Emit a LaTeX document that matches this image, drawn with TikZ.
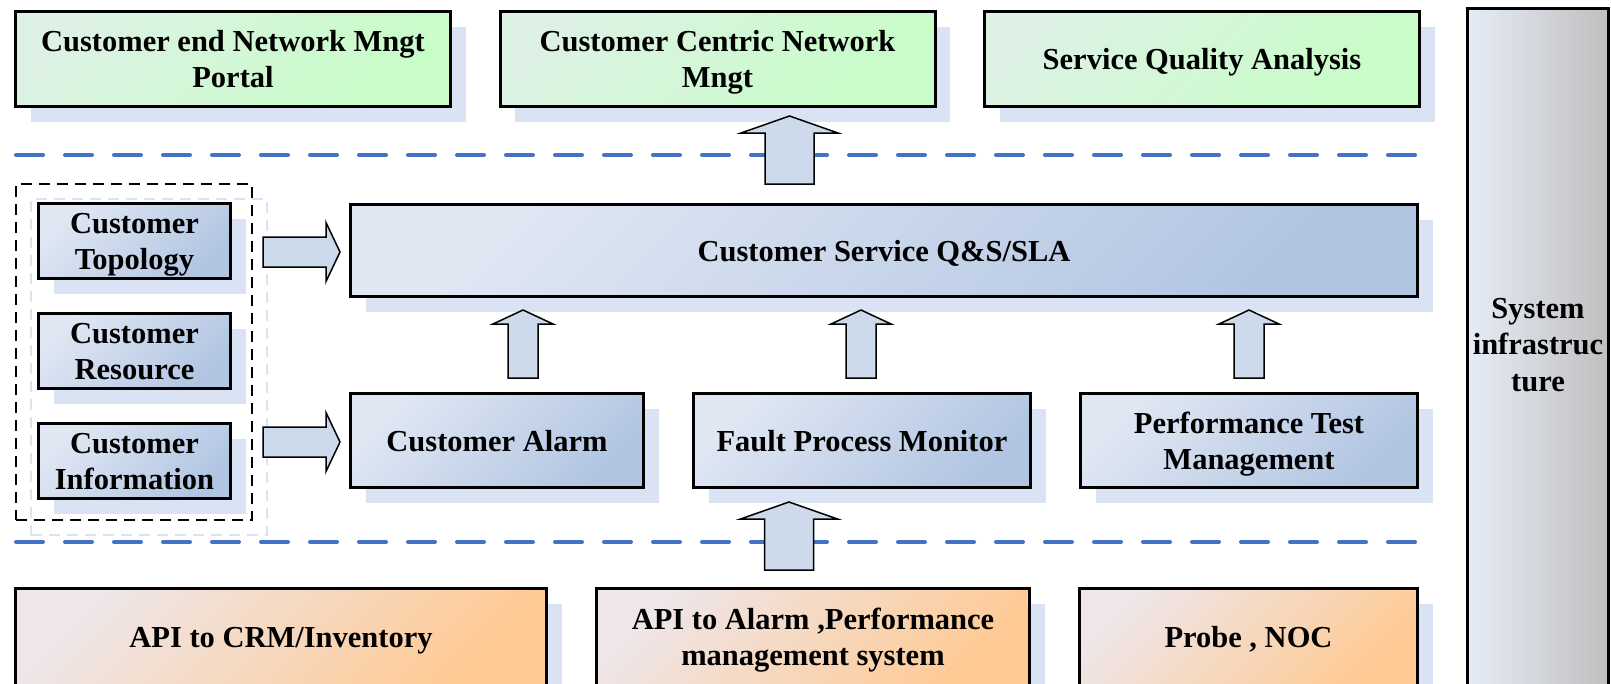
\documentclass[tikz,border=0pt]{standalone}
\usepackage{fontspec}
\setmainfont{Liberation Serif}
\usepackage{tikz}
\usetikzlibrary{positioning,shadows}

\definecolor{shadowblue}{HTML}{DAE3F3}
\definecolor{sepblue}{HTML}{4472C4}
\definecolor{arrowblue}{HTML}{CCDAEC}
\definecolor{greenA}{HTML}{DDF2E4}
\definecolor{greenB}{HTML}{C8FDC8}
\definecolor{blueA}{HTML}{E0E7F3}
\definecolor{blueB}{HTML}{B1C5E2}
\definecolor{orangeA}{HTML}{EEE6E8}
\definecolor{orangeB}{HTML}{FFCA94}
\definecolor{grayA}{HTML}{E6ECF7}
\definecolor{grayB}{HTML}{BFBFBF}

\begin{document}
\begin{tikzpicture}[x=1pt,y=-1pt,node distance=47pt,
  box/.style={draw,line width=3pt,align=center,inner sep=0pt,text depth=0pt,
    font=\bfseries\fontsize{30.5}{36}\selectfont,
    general shadow={fill=shadowblue,shadow xshift=15pt,shadow yshift=-15pt}},
  greenbox/.style={box,top color=greenA,bottom color=greenB,shading angle=45,
    minimum width=435pt,minimum height=95pt},
  bluebox/.style={box,top color=blueA,bottom color=blueB,shading angle=45},
  orangebox/.style={box,top color=orangeA,bottom color=orangeB,shading angle=45,
    minimum height=97pt},
  graybox/.style={draw,line width=3pt,inner sep=0pt,
    left color=grayA,right color=grayB},
  groupbox/.style={draw,line width=2pt,dash pattern=on 11pt off 7pt,inner sep=0pt,
    general shadow={draw=shadowblue,line width=2pt,dash pattern=on 11pt off 7pt,
      shadow xshift=15pt,shadow yshift=-15pt}},
  sepline/.style={sepblue,line width=4pt,line cap=round,dash pattern=on 27pt off 22pt},
  blockarr/.style={draw,fill=arrowblue,line width=1.5pt,line join=miter},
  bigup/.pic={\path[blockarr] (-24.5,0) -- (-24.5,-51) -- (-48.5,-51) -- (0,-68)
    -- (48.5,-51) -- (24.5,-51) -- (24.5,0) -- cycle;},
  smallup/.pic={\path[blockarr] (-15,0) -- (-15,-54) -- (-30,-54) -- (0,-68)
    -- (30,-54) -- (15,-54) -- (15,0) -- cycle;},
  smallright/.pic={\path[blockarr] (0,-15) -- (63,-15) -- (63,-29.5) -- (77,0)
    -- (63,29.5) -- (63,15) -- (0,15) -- cycle;}]

\useasboundingbox (0,0) rectangle (1611,683);
\clip (0,0) rectangle (1611,683);

% top layer
\node[greenbox] (cenm) at (233,59) {Customer end Network Mngt\\Portal};
\node[greenbox] (ccnm) [right=46.5pt of cenm] {Customer Centric Network\\Mngt};
\node[greenbox] (sqa) [right=46.5pt of ccnm] {Service Quality Analysis};

\draw[sepline] (16,155) -- (1419,155);
\draw[sepline] (16,542) -- (1419,542);

% customer data
\node[groupbox, minimum width=236pt, minimum height=336pt] (custgroup) at (134,352) {};
\node[bluebox, minimum width=192pt, minimum height=75pt] (custtopo) at (134.5,241) {Customer\\Topology};
\node[bluebox, minimum width=192pt, minimum height=75pt] (custres) [below=32pt of custtopo] {Customer\\Resource};
\node[bluebox, minimum width=192pt, minimum height=75pt] (custinfo) [below=32pt of custres] {Customer\\Information};

% middle layer
\node[bluebox, minimum width=1067pt, minimum height=92pt] (sla) at (884,250.5) {Customer Service Q\&S/SLA};
\node[bluebox, minimum width=293pt, minimum height=94pt] (custalarm) at (497,440.5) {Customer Alarm};
\node[bluebox, minimum width=337pt, minimum height=94pt] (faultmon) [right=47pt of custalarm] {Fault Process Monitor};
\node[bluebox, minimum width=337pt, minimum height=94pt] (perftest) [right=47pt of faultmon] {Performance Test\\Management};

% bottom layer
\node[orangebox, minimum width=531pt] (crmapi) at (281,637) {API to CRM/Inventory};
\node[orangebox, minimum width=433pt] (alarmapi) [right=47pt of crmapi] {API to Alarm ,Performance\\management system};
\node[orangebox, minimum width=338pt] (probe) [right=47pt of alarmapi] {Probe , NOC};

\node[graybox, minimum width=141pt, minimum height=686.5pt] (sysinf) at (1538,351.75) {};
\node[align=center, inner sep=0pt, font=\bfseries\fontsize{30.5}{36.5}\selectfont]
  (sysinftext) at (1538,345) {System\\infrastruc\\ture};

% arrows
\pic (toccnm) at (789.5,184) {bigup};
\pic (tofault) at (789,570) {bigup};
\pic (alarmup) at (523,378) {smallup};
\pic (faultup) at (861,378) {smallup};
\pic (perfup) at (1249,378) {smallup};
\pic (toporight) at (263,252) {smallright};
\pic (inforight) at (263,442) {smallright};
\end{tikzpicture}
\end{document}
